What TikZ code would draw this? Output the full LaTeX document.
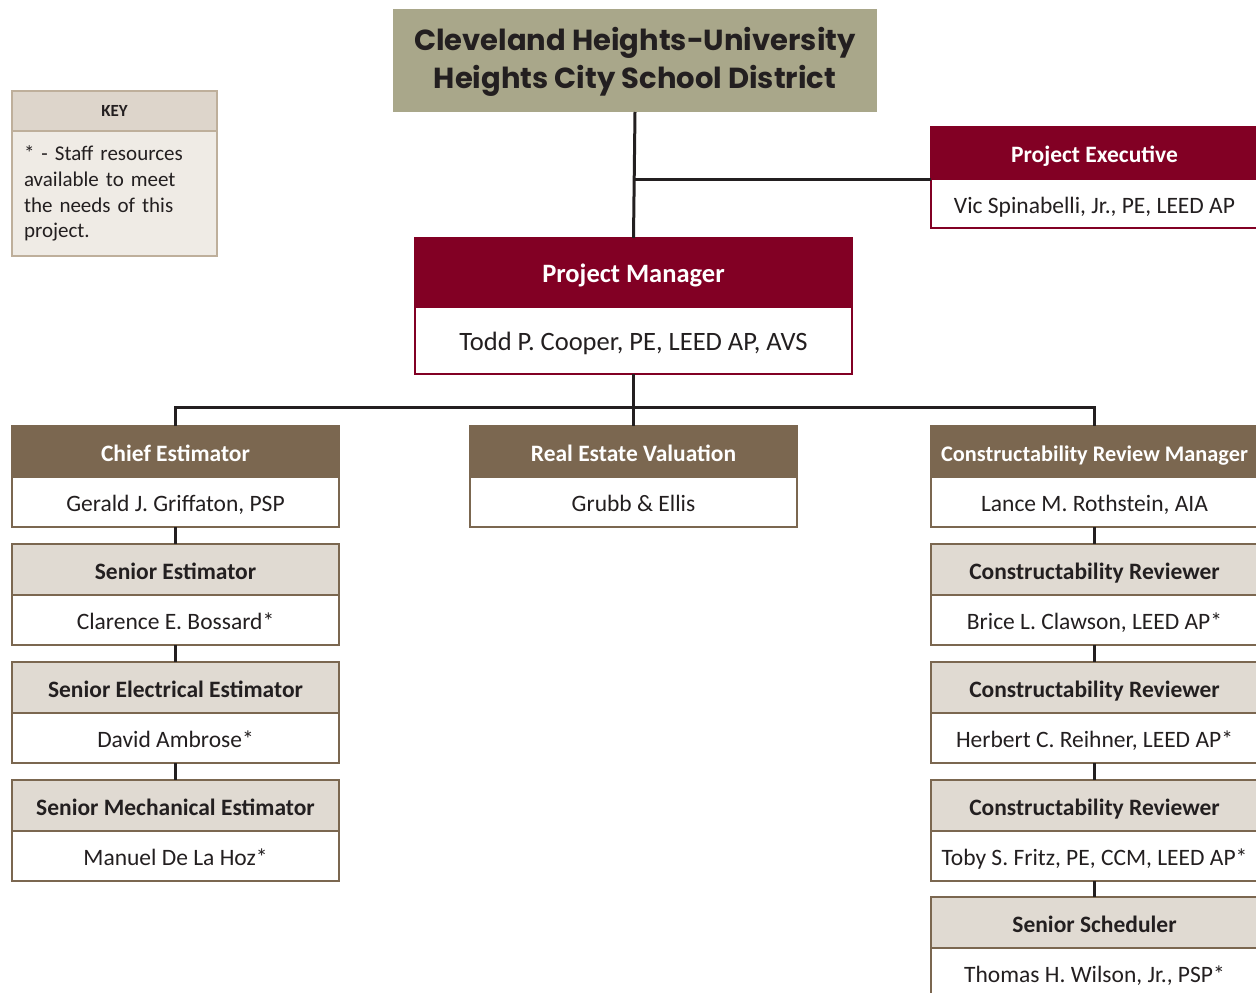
\documentclass[tikz,border=0pt]{standalone}
\usepackage{fontspec}
\setmainfont{Carlito}
\newfontfamily\gothic{Poppins}
\usetikzlibrary{positioning}
\definecolor{wine}{RGB}{130,0,36}
\definecolor{umber}{RGB}{123,103,80}
\definecolor{taupe}{RGB}{224,218,210}
\definecolor{khaki}{RGB}{169,167,138}
\definecolor{keyhead}{RGB}{221,213,203}
\definecolor{keybody}{RGB}{239,235,229}
\definecolor{keyline}{RGB}{190,175,155}
\definecolor{ink}{RGB}{35,31,32}
\tikzset{
node distance=0pt,
every node/.style={rectangle,inner sep=0pt,outer sep=0pt,text=ink},
box/.style={minimum width=327pt,line width=2pt,text height=23pt,text depth=4pt},
head/.style={box,minimum height=51pt,draw=umber,font=\fontsize{23.5}{28}\selectfont\bfseries},
lead/.style={head,fill=umber,text=white},
staff/.style={head,fill=taupe},
person/.style={box,minimum height=50pt,draw=umber,fill=white,font=\fontsize{23.5}{28}\selectfont},
redhead/.style={head,fill=wine,draw=wine,text=white},
redperson/.style={person,draw=wine},
conn/.style={draw=ink,line width=3pt}
}
\begin{document}
\begin{tikzpicture}[x=1pt,y=-1pt]
\useasboundingbox (0,0) rectangle (1256,993);

% district and key
\node[fill=khaki,minimum width=484pt,minimum height=103pt,align=center,text height=62pt,text depth=6pt,
      font=\gothic\bfseries\fontsize{29}{38}\selectfont] (district) at (635,60.5)
      {Cleveland Heights-University\\Heights City School District};
\node[minimum width=205pt,minimum height=40pt,fill=keyhead,draw=keyline,line width=1.5pt,
      font=\bfseries\fontsize{17}{20}\selectfont] (keyhd) at (114.5,111) {KEY};
\node[below=of keyhd,minimum height=125pt,text width=181pt,inner xsep=12pt,align=left,
      fill=keybody,draw=keyline,line width=1.5pt,font=\fontsize{21}{25.7}\selectfont] (keybd)
      {* - Staff resources\\available to meet\\the needs of this\\project.};

% executive and manager
\node[redhead,minimum height=52pt] (exechd) at (1094.5,153) {Project Executive};
\node[redperson,below=of exechd,minimum height=49pt] (execbd) {Vic Spinabelli, Jr., PE, LEED AP};
\node[redhead,minimum width=437pt,minimum height=69pt,font=\fontsize{26.5}{30}\selectfont\bfseries]
      (pmhd) at (633.5,272.5) {Project Manager};
\node[redperson,below=of pmhd,minimum width=437pt,minimum height=67pt,font=\fontsize{26.5}{30}\selectfont]
      (pmbd) {Todd P. Cooper, PE, LEED AP, AVS};

% estimating
\node[lead] (chiefhd) at (175.5,451.5) {Chief Estimator};
\node[person,below=of chiefhd] (chiefbd) {Gerald J. Griffaton, PSP};
\node[staff,below=17pt of chiefbd] (sehd) {Senior Estimator};
\node[person,below=of sehd] (sebd) {Clarence E. Bossard*};
\node[staff,below=17pt of sebd] (seehd) {Senior Electrical Estimator};
\node[person,below=of seehd] (seebd) {David Ambrose*};
\node[staff,below=17pt of seebd] (smehd) {Senior Mechanical Estimator};
\node[person,below=of smehd] (smebd) {Manuel De La Hoz*};

% real estate
\node[lead] (rehd) at (633.5,451.5) {Real Estate Valuation};
\node[person,below=of rehd] (rebd) {Grubb \& Ellis};

% constructability
\node[lead,font=\fontsize{22.3}{28}\selectfont\bfseries] (crmhd) at (1094.5,451.5) {Constructability Review Manager};
\node[person,below=of crmhd] (crmbd) {Lance M. Rothstein, AIA};
\node[staff,below=17pt of crmbd] (cr1hd) {Constructability Reviewer};
\node[person,below=of cr1hd] (cr1bd) {Brice L. Clawson, LEED AP*};
\node[staff,below=17pt of cr1bd] (cr2hd) {Constructability Reviewer};
\node[person,below=of cr2hd] (cr2bd) {Herbert C. Reihner, LEED AP*};
\node[staff,below=17pt of cr2bd] (cr3hd) {Constructability Reviewer};
\node[person,below=of cr3hd] (cr3bd) {Toby S. Fritz, PE, CCM, LEED AP*};
\node[staff,below=16pt of cr3bd] (schedhd) {Senior Scheduler};
\node[person,below=of schedhd] (schedbd) {Thomas H. Wilson, Jr., PSP*};

% lines
\coordinate (bus) at (633.5,407);
\draw[conn] (district.south) -- (pmhd.north);
\draw[conn] (exechd.south west) -- (exechd.south west -| district.south);
\draw[conn] (pmbd.south) -- (rehd.north);
\draw[conn] (chiefhd.north) |- (bus) -| (crmhd.north);
\foreach \a/\b in {chiefbd/sehd,sebd/seehd,seebd/smehd,crmbd/cr1hd,cr1bd/cr2hd,cr2bd/cr3hd,cr3bd/schedhd}
  \draw[conn] (\a.south) -- (\b.north);
\end{tikzpicture}
\end{document}
